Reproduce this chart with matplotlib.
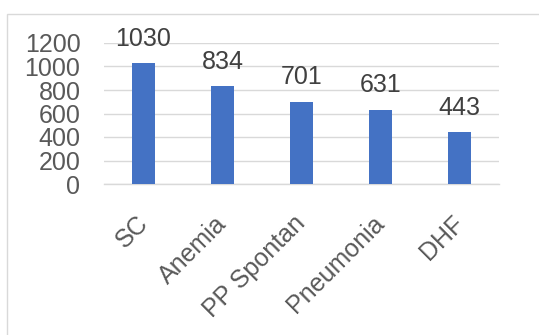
import matplotlib
matplotlib.use("Agg")
import matplotlib.pyplot as plt
import matplotlib.transforms as mtransforms
from matplotlib.patches import Rectangle

categories = ["SC", "Anemia", "PP Spontan", "Pneumonia", "DHF"]
values = [1030, 834, 701, 631, 443]
yticks = [0, 200, 400, 600, 800, 1000, 1200]

plt.rcParams['font.family'] = ['Liberation Sans', 'DejaVu Sans']
W, H = 539, 335
fig = plt.figure(figsize=(W/100, H/100), dpi=100)
fig.patch.set_facecolor('white')

# chart border (cropped on right/bottom)
fig.patches.append(Rectangle((7/W, -0.1), 1.2, 1 - 14/H + 0.1, transform=fig.transFigure,
                             fill=False, edgecolor='#d9d9d9', linewidth=1.0))

ax = fig.add_axes([104/W, 1 - 184/H, 395/W, 141/H])
x = range(len(categories))
ax.bar(x, values, width=0.30, color='#4472C4', zorder=3)
ax.set_xlim(-0.5, len(categories) - 0.5)
ax.set_ylim(0, 1200)
ax.set_yticks(yticks)
ax.set_yticklabels([str(t) for t in yticks])
ax.yaxis.grid(True, color='#d9d9d9', linewidth=1.0, zorder=0)
for s in ['top', 'right', 'left']:
    ax.spines[s].set_visible(False)
ax.spines['bottom'].set_color('#d9d9d9')
ax.spines['bottom'].set_linewidth(1.0)
ax.tick_params(axis='both', length=0, labelsize=18, colors='#595959')
ax.tick_params(axis='y', pad=17)
ax.set_xticks(list(x))
ax.set_xticklabels(categories, rotation=45, ha='right', rotation_mode='anchor')
ax.tick_params(axis='x', pad=11)
offset = mtransforms.ScaledTranslation(-8/100, -12/100, fig.dpi_scale_trans)
for lbl in ax.get_xticklabels():
    lbl.set_transform(lbl.get_transform() + offset)

for i, v in enumerate(values):
    ax.annotate(str(v), (i, v), xytext=(0, 12.5), textcoords='offset points',
                ha='center', va='baseline', fontsize=18, color='#404040')

fig.savefig('out.png', dpi=100)
